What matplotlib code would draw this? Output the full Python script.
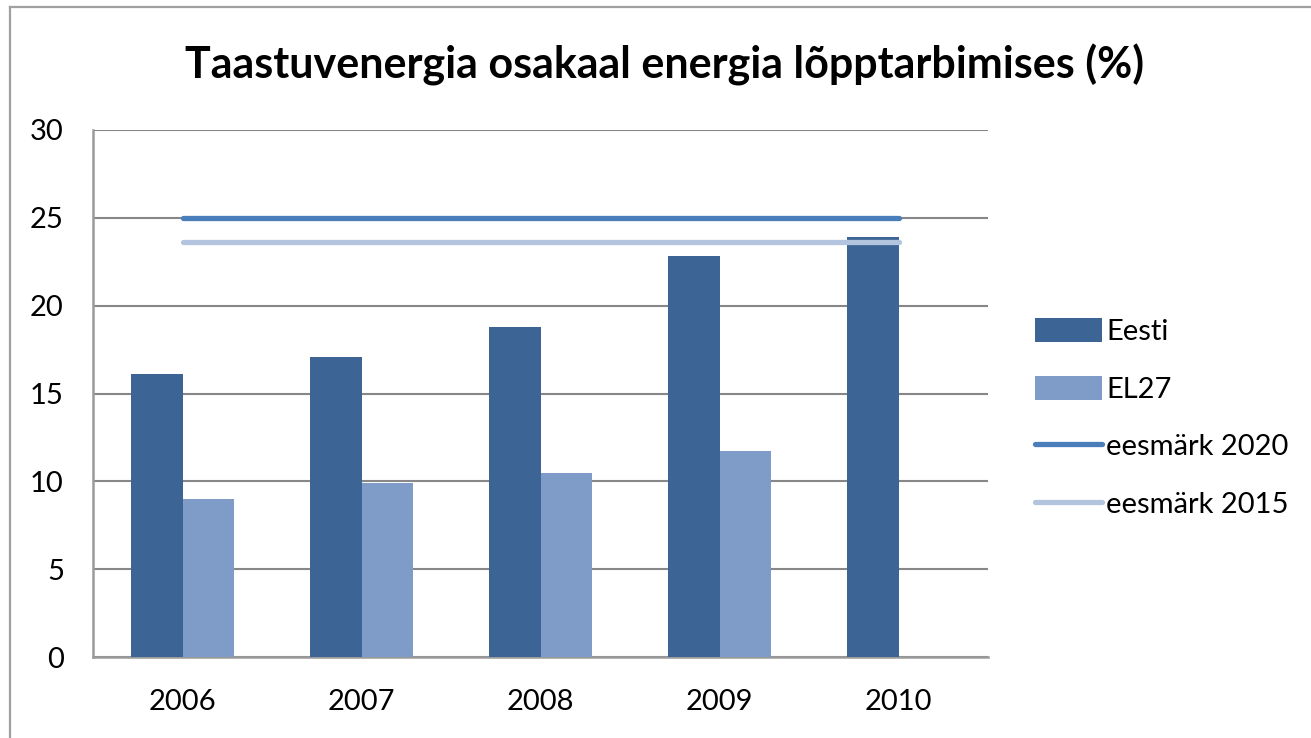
import matplotlib
matplotlib.use("Agg")
import matplotlib.pyplot as plt
import numpy as np
from matplotlib.lines import Line2D

years = ["2006", "2007", "2008", "2009", "2010"]
eesti = [16.1, 17.1, 18.8, 22.8, 23.9]
el27 = [9.0, 9.9, 10.5, 11.7, np.nan]
target_2020 = [25, 25, 25, 25, 25]
target_2015 = [23.6, 23.6, 23.6, 23.6, 23.6]
yticks = [0, 5, 10, 15, 20, 25, 30]

title = "Taastuvenergia osakaal energia lõpptarbimises (%)"
labels = ["Eesti", "EL27", "eesmärk 2020", "eesmärk 2015"]

c_eesti = "#3C6494"
c_el27 = "#7F9CC8"
c_2020 = "#4A7EBB"
c_2015 = "#B3C5DE"
grid_c = "#878787"

plt.rcParams["font.family"] = ["Lato", "DejaVu Sans"]

W, H = 1311, 738
fig = plt.figure(figsize=(W / 100, H / 100), dpi=100)
fig.patch.set_facecolor("white")

# outer border (left and top)
fig.add_artist(Line2D([10 / W, 10 / W], [0, 1 - 7 / H], color="#A0A0A0", lw=1.6,
                      transform=fig.transFigure))
fig.add_artist(Line2D([10 / W, 1], [1 - 7 / H, 1 - 7 / H], color="#A0A0A0", lw=1.6,
                      transform=fig.transFigure))

left, right = 93 / W, 988 / W
bottom, top = (H - 657) / H, (H - 130) / H
ax = fig.add_axes([left, bottom, right - left, top - bottom])

x = np.arange(len(years))
bw = 0.288
b1 = ax.bar(x - bw / 2, eesti, width=bw, color=c_eesti, zorder=3, label=labels[0])
b2 = ax.bar(x + bw / 2, el27, width=bw, color=c_el27, zorder=3, label=labels[1])
l1, = ax.plot(x, target_2020, color=c_2020, lw=3.8, solid_capstyle="round", zorder=4, label=labels[2])
l2, = ax.plot(x, target_2015, color=c_2015, lw=3.8, solid_capstyle="round", zorder=4, label=labels[3])

ax.set_xlim(-0.5, len(years) - 0.5)
ax.set_ylim(0, 30)
ax.set_yticks(yticks)
ax.set_yticklabels([str(v) for v in yticks])
ax.set_xticks(x)
ax.set_xticklabels(years)
ax.yaxis.grid(True, color=grid_c, lw=1.5, zorder=1)
ax.set_axisbelow(True)
for s in ["top", "right"]:
    ax.spines[s].set_visible(False)
for s in ["left", "bottom"]:
    ax.spines[s].set_color("#9A9A9A")
    ax.spines[s].set_linewidth(1.8)
ax.tick_params(axis="y", length=0, pad=21, labelsize=21, labelcolor="black")
ax.tick_params(axis="x", length=0, pad=23, labelsize=21, labelcolor="black")

fig.text(665 / W, 1 - 65 / H, title, ha="center", va="center", fontsize=31,
         fontweight="bold", color="black")

leg = ax.legend([b1, b2, l1, l2], labels, loc="center left",
                bbox_to_anchor=(1035 / W, 1 - 418 / H),
                bbox_transform=fig.transFigure, frameon=False, fontsize=21,
                handlelength=2.3, handleheight=0.9, handletextpad=0.15,
                labelspacing=1.05, borderpad=0, borderaxespad=0)

fig.savefig("out.png", dpi=100, facecolor="white")
